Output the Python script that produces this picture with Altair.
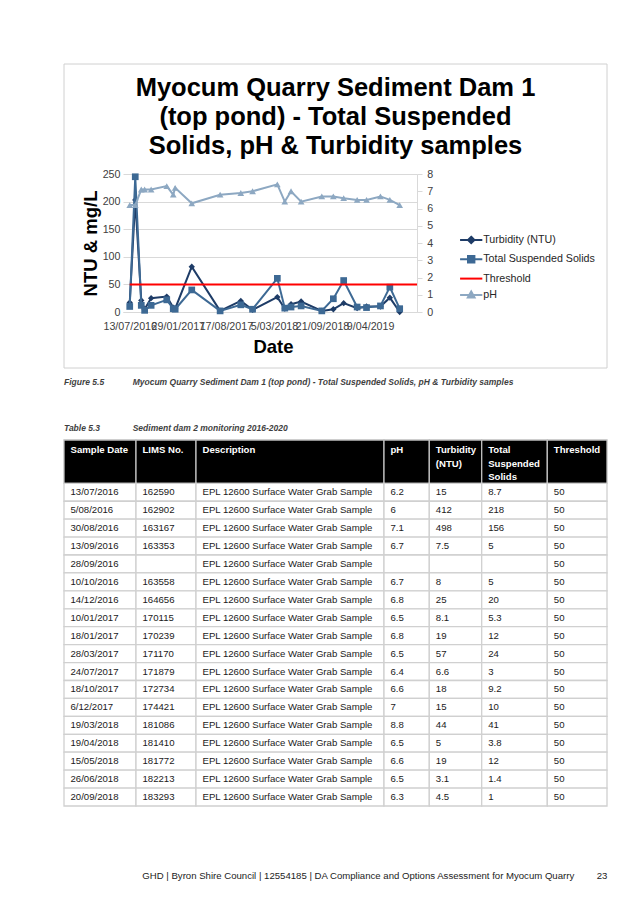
import altair as alt
import pandas as pd

# ---------------- chart series ----------------
sample_dates = [
    "2016-07-13", "2016-08-05", "2016-08-30", "2016-09-13", "2016-10-10",
    "2016-12-14", "2017-01-10", "2017-01-18", "2017-03-28", "2017-07-24",
    "2017-10-18", "2017-12-06", "2018-03-19", "2018-04-19", "2018-05-15",
    "2018-06-26", "2018-09-20", "2018-11-07", "2018-12-20", "2019-02-14",
    "2019-03-25", "2019-05-22", "2019-06-30", "2019-08-10",
]
turbidity = [17, 203, 21, 5, 25, 28, 8, 6, 82, 2, 20, 4, 27, 6, 14, 19, 2, 5, 16, 7, 10, 10, 26, 0]
tss = [10, 245, 12, 3, 12, 22, 6, 5, 40, 2, 13, 5, 61, 7, 9, 11, 2, 24, 57, 9, 8, 11, 45, 6]
ph = [6.2, 6.2, 7.1, 7.1, 7.1, 7.3, 6.8, 7.2, 6.3, 6.8, 6.9, 7.0, 7.4, 6.4, 7.0, 6.4,
      6.7, 6.7, 6.6, 6.5, 6.5, 6.7, 6.5, 6.2]
threshold_dates = ["2016-07-13", "2019-10-21"]
threshold = [50, 50]

x_domain_dates = ["2016-06-15", "2019-10-21"]
x_tick_dates = ["2016-07-13", "2017-01-29", "2017-08-17", "2018-03-05", "2018-09-21", "2019-04-09"]
left_ticks = [0, 50, 100, 150, 200, 250]
right_ticks = [0, 1, 2, 3, 4, 5, 6, 7, 8]
series_names = ["Turbidity (NTU)", "Total Suspended Solids", "Threshold", "pH"]

chart_title = "Myocum Quarry Sediment Dam 1\n(top pond) - Total Suspended\nSolids, pH & Turbidity samples"
y_title = "NTU & mg/L"
x_title = "Date"

# ---------------- table (read from the page) ----------------
tbl_headers = ["Sample Date", "LIMS No.", "Description", "pH", "Turbidity\n(NTU)",
               "Total\nSuspended\nSolids", "Threshold"]
tbl_dates = ["13/07/2016", "5/08/2016", "30/08/2016", "13/09/2016", "28/09/2016", "10/10/2016",
             "14/12/2016", "10/01/2017", "18/01/2017", "28/03/2017", "24/07/2017", "18/10/2017",
             "6/12/2017", "19/03/2018", "19/04/2018", "15/05/2018", "26/06/2018", "20/09/2018"]
tbl_lims = ["162590", "162902", "163167", "163353", "", "163558", "164656", "170115", "170239",
            "171170", "171879", "172734", "174421", "181086", "181410", "181772", "182213", "183293"]
tbl_desc = ["EPL 12600 Surface Water Grab Sample"] * 18
tbl_ph = ["6.2", "6", "7.1", "6.7", "", "6.7", "6.8", "6.5", "6.8", "6.5", "6.4", "6.6", "7",
          "8.8", "6.5", "6.6", "6.5", "6.3"]
tbl_turb = ["15", "412", "498", "7.5", "", "8", "25", "8.1", "19", "57", "6.6", "18", "15",
            "44", "5", "19", "3.1", "4.5"]
tbl_tss = ["8.7", "218", "156", "5", "", "5", "20", "5.3", "12", "24", "3", "9.2", "10",
           "41", "3.8", "12", "1.4", "1"]
tbl_thr = ["50"] * 18

fig_label = "Figure 5.5"
fig_caption = "Myocum Quarry Sediment Dam 1 (top pond) - Total Suspended Solids, pH & Turbidity samples"
tbl_label = "Table 5.3"
tbl_caption = "Sediment dam 2 monitoring 2016-2020"
footer_text = "GHD | Byron Shire Council | 12554185 | DA Compliance and Options Assessment for Myocum Quarry"
page_no = "23"

# ---------------- styles / layout ----------------
FONT = "Liberation Sans"
C_TURB, C_TSS, C_THR, C_PH = "#1E3C67", "#3D6994", "#FF0000", "#8DA8C2"
GRID = "#D9D9D9"
LABEL = "#404040"
W, H = 294, 138


def dt(s):
    y, m, d = (int(v) for v in s.split("-"))
    return alt.DateTime(year=y, month=m, date=d)


def local(s):
    return s.replace("-", "/")


chart_df = pd.DataFrame({"date": [local(d) for d in sample_dates],
                         "turb": turbidity, "tss": tss, "ph": ph})
thr_df = pd.DataFrame({"date": [local(d) for d in threshold_dates], "thr": threshold})

x_enc = alt.X(
    "date:T",
    scale=alt.Scale(domain=[dt(d) for d in x_domain_dates]),
    axis=alt.Axis(
        values=[dt(d) for d in x_tick_dates], format="%-d/%m/%Y", labelOverlap=False,
        labelFlush=False, grid=False, ticks=False, tickSize=0, domain=True,
        domainColor=GRID, labelPadding=9.3, labelFont=FONT, labelFontSize=10.7,
        labelColor=LABEL, title=x_title, titleFont=FONT, titleFontSize=18.5,
        titleFontWeight="bold", titleColor="black", titleX=150, titleY=40,
        titleAlign="center", titleBaseline="alphabetic",
    ),
)

left_axis = alt.Axis(
    values=left_ticks, grid=True, gridColor=GRID, gridWidth=1, domain=False, ticks=False,
    tickSize=0, labelPadding=3, labelFont=FONT, labelFontSize=10.7, labelColor=LABEL,
    title=y_title, titleFont=FONT, titleFontSize=18.5, titleFontWeight="bold",
    titleColor="black", titleAngle=270, titleX=-27, titleY=H / 2, titleAlign="center",
    titleBaseline="alphabetic", orient="left",
)
right_axis = alt.Axis(
    values=right_ticks, grid=False, domain=True, domainColor=GRID, ticks=True,
    tickColor=GRID, tickSize=5, labelPadding=4.7, labelFont=FONT, labelFontSize=10.7,
    labelColor=LABEL, title=None, orient="right",
)


def yl(field):
    return alt.Y(f"{field}:Q", scale=alt.Scale(domain=[0, 250]), axis=left_axis)


turb_line = alt.Chart(chart_df).mark_line(color=C_TURB, strokeWidth=2).encode(x=x_enc, y=yl("turb"))
turb_pts = alt.Chart(chart_df).mark_point(shape="diamond", filled=True, size=40, color=C_TURB,
                                          opacity=1).encode(x=x_enc, y=yl("turb"))
tss_line = alt.Chart(chart_df).mark_line(color=C_TSS, strokeWidth=2).encode(x=x_enc, y=yl("tss"))
tss_pts = alt.Chart(chart_df).mark_point(shape="square", filled=True, size=45, color=C_TSS,
                                         opacity=1).encode(x=x_enc, y=yl("tss"))
thr_line = alt.Chart(thr_df).mark_line(color=C_THR, strokeWidth=2).encode(x=x_enc, y=yl("thr"))

yr = alt.Y("ph:Q", scale=alt.Scale(domain=[0, 8]), axis=right_axis)
ph_line = alt.Chart(chart_df).mark_line(color=C_PH, strokeWidth=2).encode(x=x_enc, y=yr)
ph_pts = alt.Chart(chart_df).mark_point(shape="triangle-up", filled=True, size=45, color=C_PH,
                                        opacity=1).encode(x=x_enc, y=yr)

left_group = alt.layer(turb_line, turb_pts, tss_line, tss_pts, thr_line)
right_group = alt.layer(ph_line, ph_pts)
plot = alt.layer(left_group, right_group).resolve_scale(y="independent")

# ---------------- legend (line + marker symbols) ----------------
legend_paths = [
    "M-1.39,0L1.39,0M0,-0.4L0.4,0L0,0.4L-0.4,0Z",
    "M-1.39,0L1.39,0M-0.4,-0.4L0.4,-0.4L0.4,0.4L-0.4,0.4Z",
    "M-1.39,0L1.39,0",
    "M-1.39,0L1.39,0M0,-0.42L0.42,0.32L-0.42,0.32Z",
]
series_colors = [C_TURB, C_TSS, C_THR, C_PH]
leg = alt.Legend(orient="none", legendX=339.2, legendY=57, title=None, symbolSize=256,
                 symbolStrokeWidth=2, labelFont=FONT, labelFontSize=10.7, labelColor="#262626",
                 labelOffset=3, rowPadding=2.3, padding=0, labelLimit=300)
legend_layer = alt.Chart(pd.DataFrame({"series": series_names})).mark_point(
    filled=True, opacity=1, clip=True
).encode(
    x=alt.value(-200), y=alt.value(-200),
    fill=alt.Fill("series:N", scale=alt.Scale(domain=series_names, range=series_colors), legend=leg),
    stroke=alt.Stroke("series:N", scale=alt.Scale(domain=series_names, range=series_colors), legend=leg),
    shape=alt.Shape("series:N", scale=alt.Scale(domain=series_names, range=legend_paths), legend=leg),
)

# ---------------- chart frame and text ----------------
frame = alt.Chart(pd.DataFrame({"k": [0]})).mark_rect(
    fill="transparent", stroke="#D0D0D0", strokeWidth=1
).encode(x=alt.value(-59), x2=alt.value(484), y=alt.value(-110), y2=alt.value(194))


def text_layer(t, x, y, size, weight="normal", style="normal", color="black", align="left",
               line_height=None):
    kw = dict(align=align, baseline="alphabetic", font=FONT, fontSize=size, fontWeight=weight,
              fontStyle=style, color=color, lineBreak="\n")
    if line_height is not None:
        kw["lineHeight"] = line_height
    return alt.Chart(pd.DataFrame({"t": [t]})).mark_text(**kw).encode(
        x=alt.value(x), y=alt.value(y), text="t:N")


title_layer = text_layer(chart_title, 212.5, -78, 25.5, weight="bold", align="center",
                         line_height=29.2)
cap1 = text_layer(fig_label, -59, 210.7, 8.5, weight="bold", style="italic", color="#3F3F3F")
cap2 = text_layer(fig_caption, 9.7, 210.7, 8.5, weight="bold", style="italic", color="#3F3F3F")
cap3 = text_layer(tbl_label, -59, 257, 8.5, weight="bold", style="italic", color="#3F3F3F")
cap4 = text_layer(tbl_caption, 9.7, 257, 8.5, weight="bold", style="italic", color="#3F3F3F")
foot1 = text_layer(footer_text, 19.3, 704.5, 9.6, color="#222222")
foot2 = text_layer(page_no, 473.7, 704.5, 9.6, color="#222222")

# ---------------- table ----------------
col_widths = [72, 60, 188, 45.3, 52.4, 65.6, 59.7]
TBL_LEFT, TBL_TOP, TBL_BOTTOM = -59, 266, 632
HDR_PX = 43.3
PAD = 6.5
n_rows = len(tbl_dates)
ROW_PX = (TBL_BOTTOM - TBL_TOP - HDR_PX) / n_rows
HDR = HDR_PX / ROW_PX

edges = [0.0]
for w in col_widths:
    edges.append(edges[-1] + w)

columns = [tbl_dates, tbl_lims, tbl_desc, tbl_ph, tbl_turb, tbl_tss, tbl_thr]
cells = []
for r in range(n_rows):
    for c in range(len(columns)):
        cells.append({"x0": edges[c], "x1": edges[c + 1], "tx": edges[c] + PAD,
                      "y0": r, "y1": r + 1, "ty": r + 0.5, "t": columns[c][r]})
cells_df = pd.DataFrame(cells)
hdr_df = pd.DataFrame([{"x0": edges[c], "x1": edges[c + 1], "tx": edges[c] + PAD,
                        "y0": -HDR, "y1": 0, "ty": -HDR + 5.4 / ROW_PX, "t": h}
                       for c, h in enumerate(tbl_headers)])

tx_scale = alt.Scale(domain=[0, edges[-1]], range=[TBL_LEFT, TBL_LEFT + edges[-1]],
                     nice=False, zero=False)
ty_scale = alt.Scale(domain=[-HDR, n_rows], range=[TBL_TOP, TBL_BOTTOM], nice=False, zero=False)

hdr_rect = alt.Chart(hdr_df).mark_rect(fill="black", stroke="#BFBFBF", strokeWidth=1.3).encode(
    x=alt.X("x0:Q", scale=tx_scale, axis=None), x2="x1:Q",
    y=alt.Y("y0:Q", scale=ty_scale, axis=None), y2="y1:Q")
cell_rect = alt.Chart(cells_df).mark_rect(fill="white", stroke="#D0D0D0", strokeWidth=1.3).encode(
    x=alt.X("x0:Q", scale=tx_scale, axis=None), x2="x1:Q",
    y=alt.Y("y0:Q", scale=ty_scale, axis=None), y2="y1:Q")
hdr_text = alt.Chart(hdr_df).mark_text(
    align="left", baseline="top", font=FONT, fontSize=9.6, fontWeight="bold", color="white",
    lineBreak="\n", lineHeight=13.3
).encode(x=alt.X("tx:Q", scale=tx_scale, axis=None), y=alt.Y("ty:Q", scale=ty_scale, axis=None),
         text="t:N")
cell_text = alt.Chart(cells_df).mark_text(
    align="left", baseline="middle", font=FONT, fontSize=9.6, color="#1A1A1A"
).encode(x=alt.X("tx:Q", scale=tx_scale, axis=None), y=alt.Y("ty:Q", scale=ty_scale, axis=None),
         text="t:N")
table = alt.layer(hdr_rect, cell_rect, hdr_text, cell_text)

chart = alt.layer(
    frame, title_layer, plot, legend_layer, table, cap1, cap2, cap3, cap4, foot1, foot2
).resolve_scale(
    x="independent", y="independent"
).properties(
    width=W, height=H,
    autosize=alt.AutoSizeParams(type="none"),
    padding={"left": 115, "top": 166, "right": 212, "bottom": 580},
).configure_view(stroke=None)

chart.save("out.html", embed_options={"renderer": "svg", "actions": False})
